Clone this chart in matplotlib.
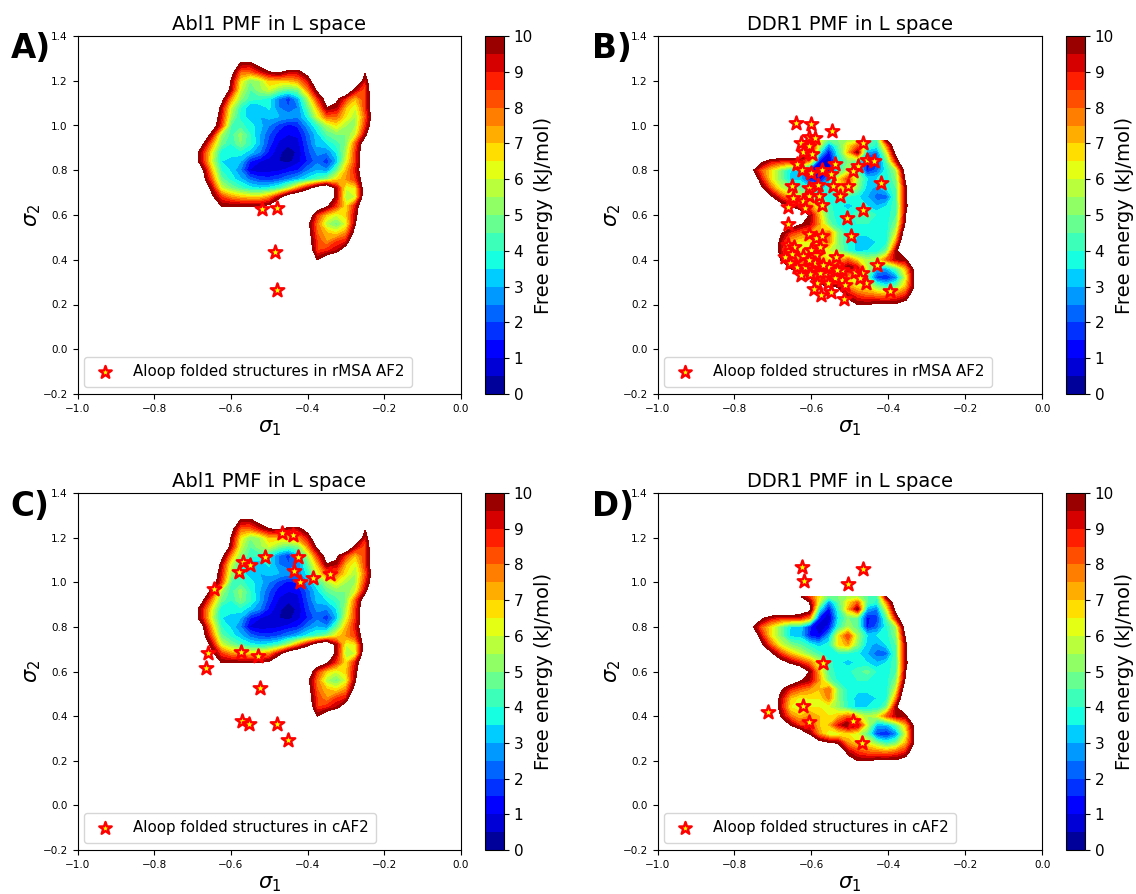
import numpy as np
import matplotlib
matplotlib.use("Agg")
import matplotlib.pyplot as plt

H = 13.0
abl_s1 = [-0.70 + 0.025 * i for i in range(20)]
abl_s2 = [1.32, 1.28, 1.24, 1.20, 1.16, 1.12, 1.08, 1.04, 1.00, 0.96, 0.92, 0.88, 0.84,
          0.80, 0.76, 0.72, 0.68, 0.64, 0.60, 0.56, 0.52, 0.48, 0.44, 0.40, 0.36]
abl_pmf = [
    [H, H, H, H, H, H, H, H, H, H, H, H, H, H, H, H, H, H, H, H],
    [H, H, H, H, H, 10, 9.8, 11, H, H, H, H, H, H, H, H, H, H, H, H],
    [H, H, H, H, 11, 8, 8, 9, 10, 10.5, 9.5, 9.5, 11, H, H, H, H, H, 10.2, H],
    [H, H, H, H, 10, 6.5, 5, 5.5, 7, 7, 7, 7.5, 9, 12, H, H, H, H, 9, H],
    [H, H, H, H, 9.5, 6, 4.5, 5.3, 6, 5, 4.5, 5, 7.5, 10.5, H, H, H, 9.5, 8, H],
    [H, H, H, 11, 7.5, 5.2, 4.2, 4.1, 3.7, 2.5, 1.7, 3, 5.5, 8.5, 11, 10.5, 8.5, 7, 8.5, 12],
    [H, H, H, 9.5, 6, 4, 3, 3.1, 3.6, 2.5, 2, 2.5, 4.5, 7, 10, 9.5, 7, 6, 8.5, 12],
    [H, H, 12, 9, 5.5, 3.8, 3.2, 3, 3.2, 3, 2.8, 2.6, 3.7, 6, 8, 8, 6.5, 5.5, 8, 11.5],
    [H, H, 11.5, 8.5, 4.5, 4.2, 3.7, 3.2, 2.5, 1.8, 1.3, 1.6, 2.8, 4, 5.5, 6.5, 5.5, 5.5, 8.5, 12],
    [H, 12, 9.5, 5.5, 4.2, 5.2, 4, 3, 2, 1.2, 1, 1.1, 2.2, 3.3, 4.5, 5, 5, 6, 9.5, H],
    [12, 10.5, 7.5, 4.8, 4, 5, 4.1, 3, 1.7, 0.9, 0.6, 0.8, 2, 3.2, 3.5, 4.2, 5, 8, 11.5, H],
    [11.5, 9, 6.3, 3.6, 3.6, 3.8, 3.2, 2.5, 1.3, 0.6, 0.2, 0.6, 1.8, 2.6, 2.5, 3.5, 5.5, 8.5, 12, H],
    [11.5, 9, 6, 3.5, 3.4, 3, 1.5, 1, 0.8, 0.5, 0.3, 0.8, 1.5, 2.3, 1.6, 3, 6, 8.5, 12, H],
    [H, 10.5, 7, 4, 3.4, 2.5, 0.9, 0.7, 0.8, 0.9, 1.2, 1.5, 2.4, 3, 2.6, 4.5, 7, 9, 12, H],
    [H, 11, 8, 4.7, 3.8, 3.1, 2.3, 1.8, 1.7, 2, 2.5, 3, 3.7, 4.3, 5, 6.5, 7.5, 8.5, 11.5, H],
    [H, 12, 9.5, 6, 5, 4.3, 3.7, 3.5, 3.7, 4.2, 5.5, 7.5, 9.5, 11.5, H, 9.5, 6, 6.5, 11.5, H],
    [H, H, 10.5, 8.5, 7.5, 7, 6.7, 6.7, 7.5, 9.5, 12, H, H, H, H, 9.5, 5.5, 6, 12, H],
    [H, H, 10.5, 10, 10, 10, 10, 10, 10.5, 12, H, H, H, 12, 10.3, 8.5, 6.5, 9, 12.5, H],
    [H, H, H, H, H, H, H, H, H, H, H, H, 12, 8.5, 6.8, 6, 6.8, 9.5, H, H],
    [H, H, H, H, H, H, H, H, H, H, H, H, 10.5, 7.8, 5.5, 4.7, 6, 10, H, H],
    [H, H, H, H, H, H, H, H, H, H, H, H, 11, 8, 7, 6.5, 7.5, 11, H, H],
    [H, H, H, H, H, H, H, H, H, H, H, H, 11, 8.5, 7.5, 8.5, 9, H, H, H],
    [H, H, H, H, H, H, H, H, H, H, H, H, 12, 8.5, 8.8, 9.5, 11.5, H, H, H],
    [H, H, H, H, H, H, H, H, H, H, H, H, H, 10, 11.5, H, H, H, H, H],
    [H, H, H, H, H, H, H, H, H, H, H, H, H, H, H, H, H, H, H, H],
]

ddr_s1 = [-0.78 + 0.025 * i for i in range(20)]
ddr_s2 = [0.935, 0.91, 0.88, 0.84, 0.80, 0.76, 0.72, 0.68, 0.64, 0.60, 0.56, 0.52, 0.48,
          0.44, 0.40, 0.36, 0.32, 0.28, 0.24, 0.20, 0.16]
ddr_pmf = [
    [H, H, H, H, H, H, 10.3, 8.5, 6.5, 4.5, 5, 5.5, 5.5, 4.5, 4, 10, H, H, H, H],
    [H, H, H, H, H, H, 12, 10, 6, 2.5, 4.5, 6.5, 8, 4.5, 3.8, 7.5, 12, H, H, H],
    [H, H, H, H, H, H, 12, 11, 4, 1.2, 4, 7, 9.8, 3, 2.5, 6, 11, H, H, H],
    [H, H, 10.5, 9.2, 8.8, 8.8, 8.8, 7.5, 1.5, 0.4, 3.5, 5, 4.5, 1.4, 1.7, 4.5, 9, H, H, H],
    [H, 10.5, 8, 6.5, 5, 3.5, 3.5, 1.6, 0.5, 1.2, 4, 5.5, 4.5, 1.4, 2.2, 3.8, 5.5, 11.5, H, H],
    [H, 12.5, 9, 6.5, 5, 3.3, 3.3, 1.5, 1, 2.8, 6.5, 8.5, 5.5, 3.5, 3.5, 3.7, 5, 10.5, H, H],
    [H, H, 10.5, 8, 6, 5, 4.5, 3.8, 3.2, 3.8, 6.5, 7.3, 5, 3.2, 2.8, 3.5, 4.5, 9.7, H, H],
    [H, H, H, 10.5, 8.5, 7, 6, 5, 4.2, 3.6, 3.9, 3.8, 3.6, 3, 2.2, 2.2, 4.5, 9.7, H, H],
    [H, H, H, H, 11, 9.8, 8.8, 7.8, 6, 4.2, 3.6, 3.3, 3.6, 3.5, 3, 3.5, 4.4, 9.5, H, H],
    [H, H, H, H, H, H, 12, 10, 7, 4.3, 3.7, 3.8, 4.3, 4.7, 3.9, 3.7, 4.4, 10, H, H],
    [H, H, H, H, H, 11.5, 10.2, 9.5, 7.5, 4.8, 3.8, 3.7, 4, 4, 3.8, 3.7, 5, 10.5, H, H],
    [H, H, H, H, 10.3, 8.7, 8, 7.5, 7, 8, 5, 3.8, 3.6, 3.6, 3.8, 3.7, 6, 12, H, H],
    [H, H, H, 12.5, 9.5, 7, 6.3, 6.5, 6.5, 7.7, 5, 3.8, 3.3, 3.3, 3.5, 3.8, 7.5, H, H, H],
    [H, H, H, 12.5, 9.3, 6.5, 6, 6.5, 6.5, 6, 5.2, 4, 3.3, 3.5, 3.6, 4.8, 9.7, H, H, H],
    [H, H, H, 12, 10, 7.8, 7, 7.5, 7, 6.5, 7, 8, 6.5, 5.5, 6, 8, 9.5, 9.7, H, H],
    [H, H, H, H, 11.5, 10, 8.5, 8.5, 7, 7, 9, 10.3, 9.5, 6, 3, 3, 4.5, 7, 11, H],
    [H, H, H, H, H, H, 12, 10, 7.5, 6, 6, 6.5, 6, 4.5, 1.8, 1.4, 2.5, 6, 10.7, H],
    [H, H, H, H, H, H, H, H, 11, 10.3, 9.8, 7.5, 6.5, 6.3, 5, 4, 4.8, 7, 10.5, H],
    [H, H, H, H, H, H, H, H, H, H, 12, 9.5, 8.5, 8, 7.8, 7.5, 8, 8.8, 12, H],
    [H, H, H, H, H, H, H, H, H, H, H, 11, 10, 10, 10.3, 10.3, 10.3, 11, H, H],
    [H, H, H, H, H, H, H, H, H, H, H, H, H, H, H, H, H, H, H, H],
]

stars_a = [(-0.52, 0.625), (-0.48, 0.63), (-0.485, 0.435), (-0.48, 0.265)]
stars_c = [(-.468, 1.219), (-.437, 1.212), (-.511, 1.113), (-.426, 1.113), (-.568, 1.091),
           (-.550, 1.077), (-.580, 1.047), (-.435, 1.052), (-.387, 1.019), (-.341, 1.036),
           (-.421, 1.000), (-.644, .968), (-.661, .681), (-.574, .689), (-.529, .671),
           (-.666, .614), (-.524, .528), (-.572, .380), (-.552, .363), (-.480, .363), (-.450, .293)]
stars_d = [(-.625, 1.07), (-.62, 1.005), (-.465, 1.06), (-.505, .99), (-.570, .64), (-.623, .447),
           (-.713, .417), (-.605, .372), (-.492, .378), (-.468, .281)]
stars_b = [(-.639, 1.010), (-.601, 1.005), (-.546, .977), (-.605, .950), (-.590, .946), (-.627, .923),
           (-.607, .910), (-.466, .920), (-.622, .880), (-.598, .871), (-.455, .846), (-.438, .843),
           (-.480, .820), (-.538, .828), (-.637, .827), (-.624, .801), (-.572, .801), (-.493, .797),
           (-.600, .786), (-.548, .782), (-.418, .744), (-.650, .730), (-.607, .719), (-.583, .734),
           (-.544, .730), (-.505, .730), (-.648, .674), (-.607, .685), (-.581, .685), (-.526, .685),
           (-.622, .664), (-.572, .645), (-.617, .630), (-.661, .634), (-.466, .622), (-.507, .588),
           (-.661, .558), (-.605, .515), (-.588, .499), (-.572, .506), (-.497, .508), (-.661, .466),
           (-.646, .458), (-.669, .414), (-.650, .426), (-.622, .418), (-.602, .443), (-.587, .421),
           (-.577, .458), (-.535, .414), (-.655, .384), (-.637, .366), (-.616, .366), (-.598, .369),
           (-.581, .376), (-.564, .342), (-.604, .335), (-.626, .332), (-.577, .339), (-.542, .339),
           (-.520, .354), (-.486, .344), (-.468, .339), (-.429, .376), (-.520, .309), (-.538, .317),
           (-.558, .294), (-.585, .294), (-.592, .268), (-.574, .242), (-.549, .254), (-.512, .287),
           (-.457, .297), (-.516, .224), (-.397, .262), (-.590, .384), (-.555, .369), (-.473, .317),
           (-.533, .354), (-.570, .376), (-.607, .399)]

W, Ht = 1136, 894
fig = plt.figure(figsize=(W / 100, Ht / 100), dpi=100)
levels = np.arange(0, 10.01, 0.5)


def panel(x0, x1, y0, y1, cb0, s1, s2, pmf, stars, title, legend_label, letter, lx, ly):
    ax = fig.add_axes([x0 / W, 1 - y1 / Ht, (x1 - x0) / W, (y1 - y0) / Ht])
    cs = ax.contourf(s1, s2, np.array(pmf), levels=levels, cmap="jet")
    xs, ys = zip(*stars)
    ax.scatter(xs, ys, marker="*", s=105, facecolor="yellow", edgecolor="red",
               linewidth=1.7, zorder=5, label=legend_label)
    ax.set_xlim(-1, 0)
    ax.set_ylim(-0.2, 1.4)
    ax.tick_params(labelsize=7.5)
    ax.set_xlabel(r"$\sigma_1$", fontsize=15, labelpad=3)
    ax.set_ylabel(r"$\sigma_2$", fontsize=15, labelpad=0)
    ax.set_title(title, fontsize=14, pad=4)
    ax.legend(loc="lower left", bbox_to_anchor=(0.018, 0.02), borderaxespad=0, fontsize=10.8,
              borderpad=0.5, handlelength=1.8, handletextpad=0.95, markerscale=0.92)
    cax = fig.add_axes([cb0 / W, 1 - y1 / Ht, 19 / W, (y1 - y0) / Ht])
    cb = fig.colorbar(cs, cax=cax, ticks=np.arange(0, 11))
    cb.ax.tick_params(labelsize=11)
    cb.set_label("Free energy (kJ/mol)", fontsize=14, labelpad=1)
    fig.text(lx / W, 1 - ly / Ht, letter, fontsize=23.5, fontweight="bold", va="center", ha="left")


panel(77.5, 461, 36, 394, 485, abl_s1, abl_s2, abl_pmf, stars_a, "Abl1 PMF in L space",
      "Aloop folded structures in rMSA AF2", "A)", 11, 48)
panel(657.5, 1042.3, 36, 394, 1066, ddr_s1, ddr_s2, ddr_pmf, stars_b, "DDR1 PMF in L space",
      "Aloop folded structures in rMSA AF2", "B)", 592, 48)
panel(77.5, 461, 493, 850, 485, abl_s1, abl_s2, abl_pmf, stars_c, "Abl1 PMF in L space",
      "Aloop folded structures in cAF2", "C)", 10, 506)
panel(657.5, 1042.3, 493, 850, 1066, ddr_s1, ddr_s2, ddr_pmf, stars_d, "DDR1 PMF in L space",
      "Aloop folded structures in cAF2", "D)", 592, 506)

fig.savefig("out.png", dpi=100)
